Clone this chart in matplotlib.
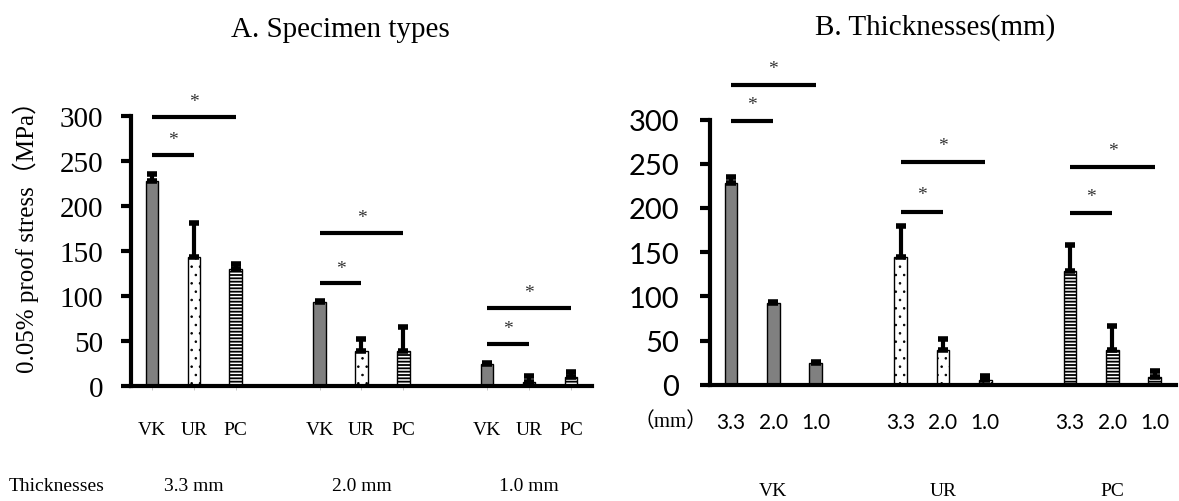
import numpy as np
import matplotlib.pyplot as plt
import matplotlib.transforms as mtransforms

types = ["VK", "UR", "PC"]
thicks = ["3.3", "2.0", "1.0"]

# panel A: rows = specimen type, columns = thickness
a_mean = {"VK": [228, 93, 25], "UR": [143, 39, 5], "PC": [130, 39, 10]}
a_err = {"VK": [7, 2, 1], "UR": [38, 13, 6], "PC": [6, 27, 6]}
# panel B
b_mean = {"VK": [228, 92, 24], "UR": [144, 39, 5], "PC": [129, 39, 9]}
b_err = {"VK": [7, 2, 1.5], "UR": [36, 13, 5], "PC": [29, 27, 6]}

# significance lines (short = bar0-bar1, long = bar0-bar2)
a_sig = [(257, 299), (114, 170), (47, 87)]
b_sig = [(298, 339), (196, 252), (194, 246)]

styles = {"VK": dict(color="#808080", hatch=None, hlw=1.0),
          "UR": dict(color="white", hatch="..", hlw=0.6),
          "PC": dict(color="white", hatch="-----", hlw=1.3)}

serif = ['Liberation Serif', 'Noto Sans CJK JP']
sans = ['Lato', 'DejaVu Sans']

fig = plt.figure(figsize=(11.79, 5.02), dpi=100)
axA = fig.add_axes([0.1111, 0.229, 0.391, 0.538])
axB = fig.add_axes([0.602, 0.2317, 0.3955, 0.528])

width = 0.3
group_x = np.array([0, 4, 8])


def style_axis(ax, font, fs, pad):
    ax.set_xlim(-0.5, 10.5)
    ax.set_ylim(0, 300)
    ax.set_yticks(np.arange(0, 301, 50))
    for s in ["top", "right"]:
        ax.spines[s].set_visible(False)
    ax.spines["left"].set_linewidth(3)
    ax.spines["bottom"].set_linewidth(3)
    ax.tick_params(axis="y", direction="out", length=7, width=3, pad=pad)
    ax.tick_params(axis="x", direction="out", length=3, width=0.6, color="#bbbbbb")
    for lab in ax.get_yticklabels():
        lab.set_family(font)
        lab.set_fontsize(fs)


def draw_bar(ax, x, h, e, key):
    st = styles[key]
    with plt.rc_context({"hatch.linewidth": st["hlw"]}):
        bars = ax.bar(x, h, width=width, color=st["color"], hatch=st["hatch"],
                      edgecolor="black", linewidth=1, zorder=2)
    for b in bars:
        if hasattr(b, "set_hatch_linewidth"):
            b.set_hatch_linewidth(st["hlw"])
    ax.errorbar(x, h, yerr=[[0], [e]], fmt="none", ecolor="black",
                elinewidth=3, capsize=3.5, capthick=4, zorder=3)


def draw_sig(ax, x0, y_short, y_long, off):
    for xe, y in [(x0 + 1, y_short), (x0 + 2, y_long)]:
        ax.plot([x0, xe], [y, y], color="black", lw=3, clip_on=False,
                solid_capstyle="butt")
        ax.text((x0 + xe) / 2, y + off, "*", ha="center", va="center",
                fontsize=14, color="#333333", family=serif)


# ---- Panel A: groups are thicknesses ----
xt_a, xl_a = [], []
for g, gx in enumerate(group_x):
    for i, t in enumerate(types):
        draw_bar(axA, gx + i, a_mean[t][g], a_err[t][g], t)
        xt_a.append(gx + i)
        xl_a.append(t)
    draw_sig(axA, gx, a_sig[g][0], a_sig[g][1], 17)
style_axis(axA, serif, 21, 13)
axA.set_xticks(xt_a)
axA.set_xticklabels(xl_a, family=serif, fontsize=14)
axA.tick_params(axis="x", pad=22)
axA.set_ylabel("0.05% proof stress（MPa）", family=serif, fontsize=18)
axA.yaxis.set_label_coords(-0.2, 0.578)

trA = mtransforms.blended_transform_factory(axA.transData, fig.transFigure)
for g, gx in enumerate(group_x):
    axA.text(gx + 1, 0.03, thicks[g] + " mm", transform=trA, ha="center",
             va="center", family=serif, fontsize=14)
fig.text(0.048, 0.03, "Thicknesses", ha="center", va="center",
         family=serif, fontsize=14)
fig.text(0.289, 0.94, "A. Specimen types", ha="center", va="center",
         family=serif, fontsize=21)

# ---- Panel B: groups are specimen types ----
xt_b, xl_b = [], []
for g, t in enumerate(types):
    gx = group_x[g]
    for i in range(3):
        draw_bar(axB, gx + i, b_mean[t][i], b_err[t][i], t)
        xt_b.append(gx + i)
        xl_b.append(thicks[i])
    draw_sig(axB, gx, b_sig[g][0], b_sig[g][1], 19)
style_axis(axB, sans, 21, 15)
axB.set_xticks(xt_b)
axB.set_xticklabels(xl_b, family=sans, fontsize=15)
axB.tick_params(axis="x", pad=20, length=0)

trB = mtransforms.blended_transform_factory(axB.transData, fig.transFigure)
for g, t in enumerate(types):
    axB.text(group_x[g] + 1, 0.02, t, transform=trB, ha="center",
             va="center", family=serif, fontsize=14)
fig.text(0.569, 0.159, "（mm）", ha="center", va="center", family=serif, fontsize=15)
fig.text(0.793, 0.946, "B. Thicknesses(mm)", ha="center", va="center",
         family=serif, fontsize=21)

plt.savefig("out.png", dpi=100)
